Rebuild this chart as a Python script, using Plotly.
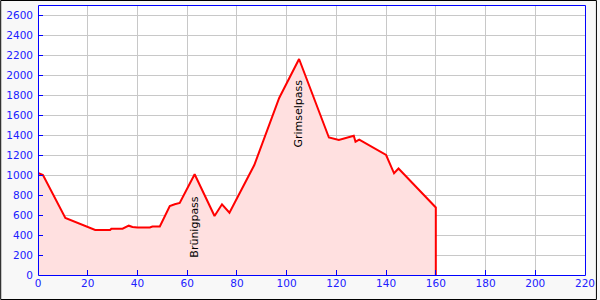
import plotly.graph_objects as go

km = [0, 2, 11, 14, 20, 23, 29, 29.5, 34, 36.5, 38, 40, 45, 46, 49, 53, 55, 57, 63,
      71, 74, 77, 87, 97, 105, 117, 121, 127, 127.7, 129.2, 140, 143.2, 145, 153, 160, 160]
elev = [1020, 1000, 570, 540, 485, 450, 450, 463, 463, 493, 480, 475, 475, 485, 485, 690, 707, 720, 1007,
        590, 707, 623, 1100, 1770, 2160, 1375, 1350, 1393, 1333, 1353, 1200, 1017, 1065, 860, 675, 0]

pass_names = ["Brünigpass", "Grimselpass"]
pass_km = [62.6, 104.4]
pass_elev = [480, 1610]

fig = go.Figure()
fig.add_trace(go.Scatter(x=km, y=elev, mode="lines", fill="tozeroy",
                         fillcolor="#ffe0e0", line=dict(color="#ff0000", width=2),
                         hoverinfo="skip"))

for n, x, y in zip(pass_names, pass_km, pass_elev):
    fig.add_annotation(x=x, y=y, text=n, showarrow=False, textangle=-90,
                       font=dict(family="DejaVu Sans", size=11, color="#000000"))

axis_common = dict(showline=False,
                   ticks="inside", ticklen=5, tickcolor="#0000ff", tickwidth=1,
                   showgrid=True, gridcolor="#c8c8c8", gridwidth=1, zeroline=False,
                   tickfont=dict(family="DejaVu Sans", size=10.5, color="#2020ff"))

fig.update_xaxes(range=[0, 220], dtick=20, tick0=0, **axis_common)
fig.update_yaxes(range=[0, 2700], dtick=200, tick0=0, ticklabelstandoff=4, **axis_common)

# plot frame (blue)
fig.add_shape(type="rect", xref="paper", yref="paper",
              x0=0.5/550, x1=550.5/550, y0=-0.5/270, y1=269.5/270,
              line=dict(color="#0000ff", width=1), fillcolor="rgba(0,0,0,0)", layer="above")
# outer border (black)
fig.add_shape(type="rect", xref="paper", yref="paper",
              x0=-37.5/550, x1=561.5/550, y0=-24.5/270, y1=274.5/270,
              line=dict(color="#000000", width=1), fillcolor="rgba(0,0,0,0)", layer="above")

fig.update_layout(width=600, height=300, margin=dict(l=38, r=12, t=5, b=25),
                  paper_bgcolor="#f8f8f8", plot_bgcolor="#ffffff", showlegend=False)

fig.write_html("out.html")
